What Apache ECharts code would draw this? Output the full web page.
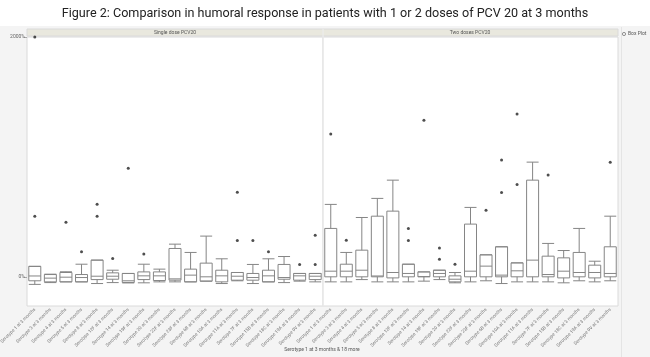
<!DOCTYPE html>
<html>
<head>
<meta charset="utf-8">
<script src="https://cdn.jsdelivr.net/npm/echarts@6/dist/echarts.min.js"></script>
<style>html,body{margin:0;padding:0;background:#fff;}#c{width:650px;height:357px;}</style>
</head>
<body>
<div id="c"></div>
<script>
const categories = [
  'Serotype 1 at 3 months','Serotype 3 at 3 months','Serotype 4 at 3 months','Serotype 5 at 3 months',
  'Serotype 8 at 3 months','Serotype 12F at 3 months','Serotype 14 at 3 months','Serotype 19F at 3 months',
  'Serotype 20 at 3 months','Serotype 22F at 3 months','Serotype 23F at 3 months','Serotype 6B at 3 months',
  'Serotype 10A at 3 months','Serotype 11A at 3 months','Serotype 7F at 3 months','Serotype 15B at 3 months',
  'Serotype 18C at 3 months','Serotype 19A at 3 months','Serotype 9V at 3 months'
];
const panelTitles = ['Single dose PCV20', 'Two doses PCV20'];
const yTickValues = [0, 2000];
const xAxisTitle = 'Serotype 1 at 3 months & 18 more';

// [min, Q1, median, Q3, max] in %
const singleDoseBoxes = [
  [-60,-30,10,90,90],[-45,-39,-8,22,25],[-39,-39,0,39,45],[-39,-39,-3,22,108],
  [-53,-20,8,142,142],[-45,-17,8,36,58],[-48,-44,-30,31,31],[-47,-20,11,44,108],
  [-39,-28,11,44,67],[-39,-25,-14,239,275],[-39,-39,17,67,206],[-33,-33,3,117,342],
  [-53,-39,11,58,153],[-30,-25,8,39,39],[-53,-25,-3,31,106],[-39,-39,11,58,153],
  [-45,-17,-3,106,172],[-33,-25,11,31,31],[-39,-20,8,31,31]
];
const singleDoseOutliers = [
  [0,2000],[0,508],[2,458],[3,211],[4,608],[4,508],[5,156],[6,908],[7,192],
  [13,708],[13,306],[14,306],[15,211],[17,106],[18,106],[18,350]
];
const twoDoseBoxes = [
  [-39,3,50,406,606],[-39,3,50,108,206],[-20,3,58,225,497],[-39,3,10,508,656],
  [-39,-6,39,550,808],[-39,3,31,108,108],[-33,3,5,44,44],[-20,3,31,58,58],
  [-47,-39,-17,11,39],[-39,3,50,442,581],[-30,3,92,186,186],[-53,3,17,253,253],
  [-39,3,53,119,119],[-39,3,142,808,958],[-39,3,22,175,281],[-47,-6,50,161,222],
  [-30,3,39,206,406],[-39,-6,39,100,133],[-30,3,31,253,508]
];
const twoDoseOutliers = [
  [0,1192],[1,308],[5,406],[5,306],[6,1306],[7,242],[7,150],[8,108],[10,558],
  [11,975],[11,706],[12,1358],[12,772],[14,850],[18,958]
];

const chart = echarts.init(document.getElementById('c'), null, {renderer:'canvas'});
const FONT = 'Roboto, "Liberation Sans", sans-serif';
const yMin = -240, yMax = 2000;

function xAxis(i){
  return {
    type:'category', gridIndex:i, data:categories,
    axisLine:{show:false}, axisTick:{show:false},
    axisLabel:{interval:0, rotate:45, fontSize:4.6, color:'#777', margin:3, fontFamily:FONT, hideOverlap:false}
  };
}
function yAxis(i){
  return {
    type:'value', gridIndex:i, min:yMin, max:yMax,
    splitLine:{show:false}, axisLine:{show:false},
    axisTick:{show:i===0, length:3, lineStyle:{color:'#aaa'}, customValues:yTickValues},
    axisLabel:{show:i===0, fontSize:5, color:'#666', margin:2, fontFamily:FONT,
      customValues:yTickValues, formatter:v=>v+'%', showMaxLabel:true, showMinLabel:true}
  };
}
const boxStyle = {color:'#fff', borderColor:'#858585', borderWidth:1};

chart.setOption({
  backgroundColor:'#f4f4f4',
  animation:false,
  title:{text:'Figure 2: Comparison in humoral response in patients with 1 or 2 doses of PCV 20 at 3 months',
    left:'center', top:2, textStyle:{fontSize:12.6, fontWeight:'normal', color:'#222', fontFamily:FONT}},
  grid:[
    {left:27, top:37, width:296, height:269, show:true, backgroundColor:'#fff', borderColor:'#dadada', borderWidth:1, outerBoundsMode:'none', containLabel:false},
    {left:323, top:37, width:295, height:269, show:true, backgroundColor:'#fff', borderColor:'#dadada', borderWidth:1, outerBoundsMode:'none', containLabel:false}
  ],
  xAxis:[xAxis(0), xAxis(1)],
  yAxis:[yAxis(0), yAxis(1)],
  series:[
    {type:'boxplot', xAxisIndex:0, yAxisIndex:0, data:singleDoseBoxes, boxWidth:[12,12], itemStyle:boxStyle, silent:true},
    {type:'scatter', xAxisIndex:0, yAxisIndex:0, data:singleDoseOutliers, symbolSize:3, itemStyle:{color:'#222'}, clip:false, silent:true, z:5},
    {type:'boxplot', xAxisIndex:1, yAxisIndex:1, data:twoDoseBoxes, boxWidth:[12,12], itemStyle:boxStyle, silent:true},
    {type:'scatter', xAxisIndex:1, yAxisIndex:1, data:twoDoseOutliers, symbolSize:3, itemStyle:{color:'#222'}, clip:false, silent:true, z:5}
  ],
  graphic:[
    {type:'rect', shape:{x:0, y:0, width:650, height:26}, style:{fill:'#fff'}, z:-10, silent:true},
    {type:'rect', shape:{x:27, y:29, width:591, height:7}, style:{fill:'#e9e8de', stroke:'#dadada', lineWidth:1}, z:1, silent:true},
    {type:'line', shape:{x1:323, y1:29, x2:323, y2:306}, style:{stroke:'#ececec', lineWidth:1.2}, z:1, silent:true},
    {type:'line', shape:{x1:621.5, y1:27, x2:621.5, y2:357}, style:{stroke:'#e4e4e4', lineWidth:1}, z:1, silent:true},
    {type:'text', x:175, y:32.5, style:{text:panelTitles[0], fontSize:5, fill:'#555', align:'center', verticalAlign:'middle', fontFamily:FONT}, z:2},
    {type:'text', x:470, y:32.5, style:{text:panelTitles[1], fontSize:5, fill:'#555', align:'center', verticalAlign:'middle', fontFamily:FONT}, z:2},
    {type:'circle', shape:{cx:624, cy:34, r:1.6}, style:{fill:'none', stroke:'#777', lineWidth:0.8}, z:2},
    {type:'text', x:628, y:34, style:{text:'Box Plot', fontSize:5, fill:'#555', align:'left', verticalAlign:'middle', fontFamily:FONT}, z:2},
    {type:'text', x:322, y:350, style:{text:xAxisTitle, fontSize:5, fill:'#555', align:'center', verticalAlign:'middle', fontFamily:FONT}, z:2}
  ]
});
</script>
</body>
</html>
